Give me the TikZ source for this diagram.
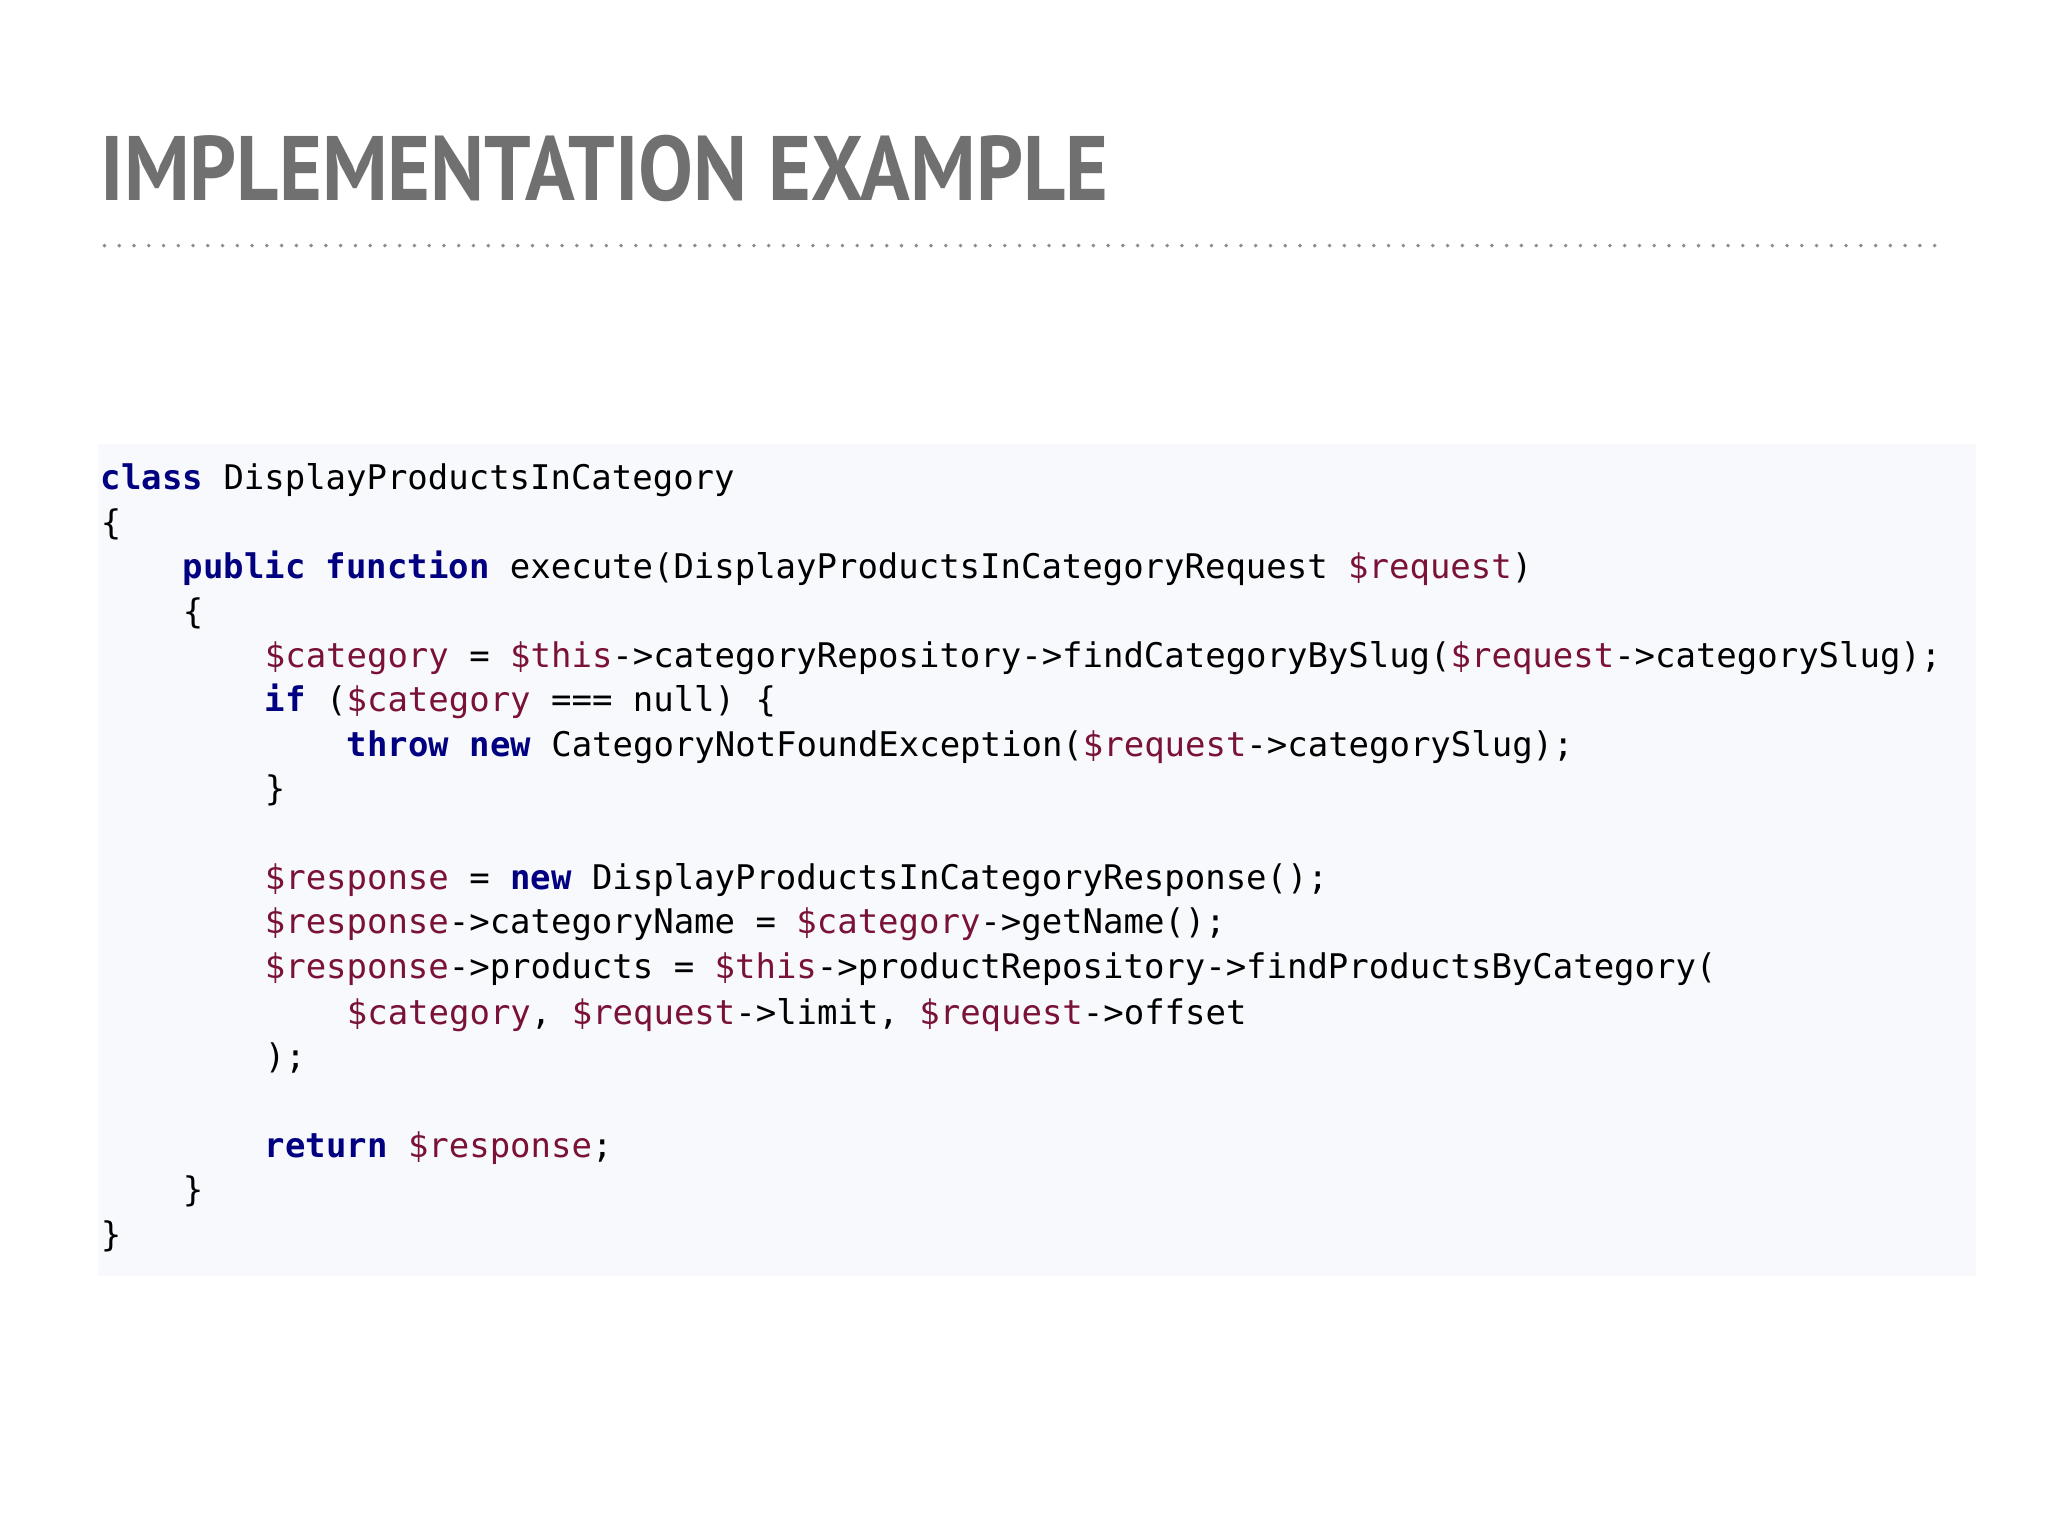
\documentclass[tikz,border=0pt]{standalone}
\usepackage{fontspec}
\usepackage{graphicx}
\newfontfamily\titlefont{PT Sans}
\newfontfamily\code{DejaVu Sans Mono}
\definecolor{ttl}{HTML}{707070}
\definecolor{codebg}{HTML}{F8F9FC}
\definecolor{kwc}{HTML}{000080}
\definecolor{varc}{HTML}{7A1237}
\newcommand{\kw}[1]{\textcolor{kwc}{\bfseries #1}}
\newcommand{\vr}[1]{\textcolor{varc}{#1}}
\begin{document}
\begin{tikzpicture}[x=1pt,y=-1pt,
  cl/.style={anchor=base west,inner sep=0pt,font=\code\fontsize{26}{30}\selectfont}]
\useasboundingbox (0,0) rectangle (1568,1176);
\fill[white] (0,0) rectangle (1568,1176);
\node[anchor=south west,inner sep=0pt,text=ttl] (title) at (77,155)
  {\resizebox{771pt}{50pt}{\titlefont\bfseries IMPLEMENTATION EXAMPLE}};
\coordinate (d1) at (80,188); \coordinate (d2) at (1492,188);
\draw[ttl!80,line width=3pt,line cap=round,dash pattern=on 0pt off 11.3pt] (d1) -- (d2);
\fill[codebg] (75,340) rectangle (1513,977);
\def\cw{15.7}
\node[cl] (l1) at (77,375) {\kw{class} DisplayProductsInCategory};
\node[cl] (l2) at (77,409) {\{};
\node[cl] (l3) at (77+4*\cw,443) {\kw{public} \kw{function} execute(DisplayProductsInCategoryRequest \vr{\$request})};
\node[cl] (l4) at (77+4*\cw,477) {\{};
\node[cl] (l5) at (77+8*\cw,511) {\vr{\$category} = \vr{\$this}->categoryRepository->findCategoryBySlug(\vr{\$request}->categorySlug);};
\node[cl] (l6) at (77+8*\cw,545) {\kw{if} (\vr{\$category} === null) \{};
\node[cl] (l7) at (77+12*\cw,579) {\kw{throw} \kw{new} CategoryNotFoundException(\vr{\$request}->categorySlug);};
\node[cl] (l8) at (77+8*\cw,613) {\}};
\node[cl] (l9) at (77+8*\cw,681) {\vr{\$response} = \kw{new} DisplayProductsInCategoryResponse();};
\node[cl] (l10) at (77+8*\cw,715) {\vr{\$response}->categoryName = \vr{\$category}->getName();};
\node[cl] (l11) at (77+8*\cw,749) {\vr{\$response}->products = \vr{\$this}->productRepository->findProductsByCategory(};
\node[cl] (l12) at (77+12*\cw,784) {\vr{\$category}, \vr{\$request}->limit, \vr{\$request}->offset};
\node[cl] (l13) at (77+8*\cw,818) {);};
\node[cl] (l14) at (77+8*\cw,886) {\kw{return} \vr{\$response};};
\node[cl] (l15) at (77+4*\cw,920) {\}};
\node[cl] (l16) at (77,954) {\}};
\end{tikzpicture}
\end{document}
